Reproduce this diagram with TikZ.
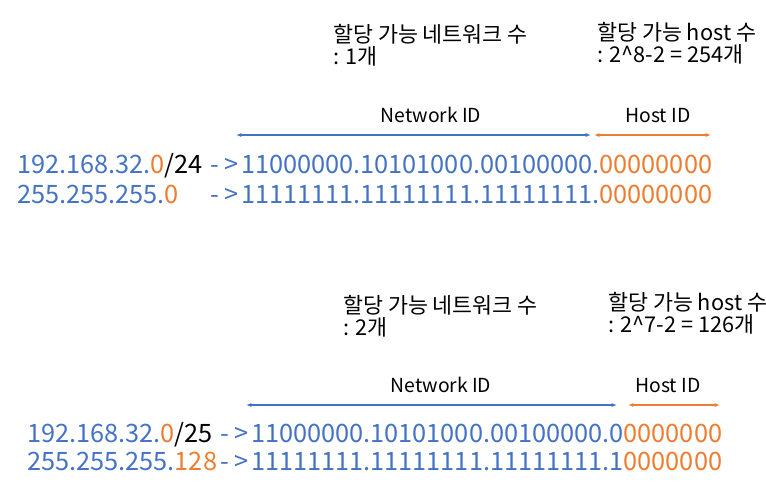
\documentclass[tikz,border=0pt]{standalone}
\usepackage{fontspec}
\setmainfont{Noto Sans CJK KR}
\usetikzlibrary{arrows.meta}
\definecolor{ipblue}{HTML}{4472C4}
\definecolor{iporange}{HTML}{ED7D31}
\newcommand{\og}[1]{\textcolor{iporange}{#1}}
\newcommand{\bk}[1]{\textcolor{black}{#1}}
\newcommand{\toarrow}{-\kern4pt>\kern2pt}
\tikzset{
  addr/.style={anchor=base west,inner sep=0pt,text=ipblue,font=\fontsize{19}{20}\selectfont},
  idlabel/.style={anchor=base,inner sep=0pt,font=\fontsize{14.5}{16}\selectfont},
  countlabel/.style={anchor=north west,inner sep=0pt,align=left,font=\fontsize{16.3}{16.5}\selectfont},
  netarrow/.style={ipblue,line width=0.8pt,{Latex[length=4pt,width=3pt]}-{Latex[length=4pt,width=3pt]}},
  hostarrow/.style={iporange,line width=0.8pt,{Latex[length=4pt,width=3pt]}-{Latex[length=4pt,width=3pt]}}
}
\begin{document}
\begin{tikzpicture}[x=0.75pt,y=-0.75pt]
\useasboundingbox (0,0) rectangle (766,490);
% /24
\node[countlabel] (netcnt1) at (333,24) {할당 가능 네트워크 수\\: 1개};
\node[countlabel] (hostcnt1) at (597,22) {할당 가능 host 수\\: 2\textasciicircum8-2 = 254개};
\coordinate (netL1) at (236,135);
\coordinate (netR1) at (591,135);
\coordinate (hostL1) at (594,135);
\coordinate (hostR1) at (711,135);
\draw[netarrow] (netL1) -- (netR1);
\draw[hostarrow] (hostL1) -- (hostR1);
\node[idlabel] (netid1) at (431,122) {Network ID};
\node[idlabel] (hostid1) at (658,122) {Host ID};
\node[addr] (ip1) at (17,173) {192.168.32.\og{0}\bk{/24}};
\node[addr] (mask1) at (17,203) {255.255.255.\og{0}};
\node[addr] (ipbin1) at (210,173) {\toarrow 11000000.10101000.00100000.\og{00000000}};
\node[addr] (maskbin1) at (210,203) {\toarrow 11111111.11111111.11111111.\og{00000000}};
% /25
\node[countlabel] (netcnt2) at (343,295) {할당 가능 네트워크 수\\: 2개};
\node[countlabel] (hostcnt2) at (608,292) {할당 가능 host 수\\: 2\textasciicircum7-2 = 126개};
\coordinate (netL2) at (246,405);
\coordinate (netR2) at (617,405);
\coordinate (hostL2) at (628,405);
\coordinate (hostR2) at (720,405);
\draw[netarrow] (netL2) -- (netR2);
\draw[hostarrow] (hostL2) -- (hostR2);
\node[idlabel] (netid2) at (441,392) {Network ID};
\node[idlabel] (hostid2) at (668,392) {Host ID};
\node[addr] (ip2) at (27,442) {192.168.32.\og{0}\bk{/25}};
\node[addr] (mask2) at (27,470) {255.255.255.\og{128}};
\node[addr] (ipbin2) at (220,442) {\toarrow 11000000.10101000.00100000.0\og{0000000}};
\node[addr] (maskbin2) at (220,470) {\toarrow 11111111.11111111.11111111.1\og{0000000}};
\end{tikzpicture}
\end{document}
